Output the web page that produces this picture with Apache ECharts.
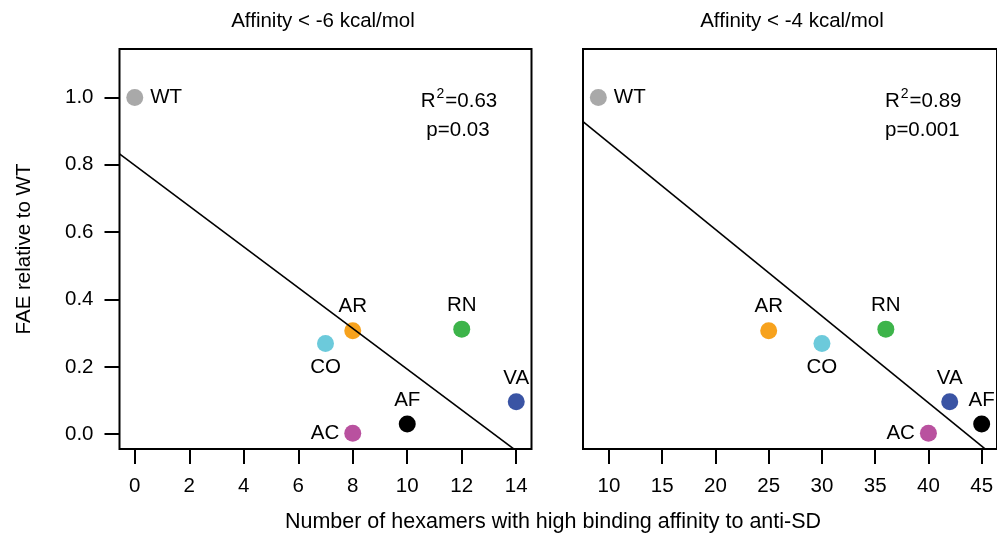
<!DOCTYPE html>
<html>
<head>
<meta charset="utf-8">
<script src="https://cdn.jsdelivr.net/npm/echarts@6/dist/echarts.min.js"></script>
<style>
html,body{margin:0;padding:0;background:#fff;}
#chart{width:997px;height:533px;}
</style>
</head>
<body>
<div id="chart"></div>
<script>
// ---- data ----
const strains = ['WT', 'AR', 'CO', 'RN', 'VA', 'AF', 'AC'];
const faeRelative = [1.0, 0.307, 0.269, 0.312, 0.096, 0.030, 0.003];
const hexamersAff6 = [0, 8, 7, 12, 14, 10, 8];    // affinity < -6 kcal/mol
const hexamersAff4 = [9, 25, 30, 36, 42, 45, 40]; // affinity < -4 kcal/mol
const xTicksLeft = [0, 2, 4, 6, 8, 10, 12, 14];
const xTicksRight = [10, 15, 20, 25, 30, 35, 40, 45];
const yTicks = [0.0, 0.2, 0.4, 0.6, 0.8, 1.0];
const statsLeft = { r2: '0.63', p: '0.03' };
const statsRight = { r2: '0.89', p: '0.001' };
const panelTitles = ['Affinity < -6 kcal/mol', 'Affinity < -4 kcal/mol'];

// ---- styles ----
const colors = {
  WT: '#a9a9a9', AR: '#f7a21d', CO: '#6ccadb', RN: '#3db44a',
  VA: '#3a54a4', AF: '#000000', AC: '#b9519f'
};
const labelPosLeft = { WT: 'right', AR: 'top', CO: 'bottom', RN: 'top', VA: 'top', AF: 'top', AC: 'left' };
const labelPosRight = { WT: 'right', AR: 'top', CO: 'bottom', RN: 'top', VA: 'top', AF: 'top', AC: 'left' };
const FONT = 'Liberation Sans, Arial, Helvetica, sans-serif';
const FS = 20.5;

// R-style axis range (4% padding)
function rRange(lo, hi) { const d = (hi - lo) * 0.04; return [lo - d, hi + d]; }
const xRangeL = rRange(Math.min(...hexamersAff6), Math.max(...hexamersAff6));
const xRangeR = rRange(Math.min(...hexamersAff4), Math.max(...hexamersAff4));
const yRange = rRange(0, 1.1);

function fit(xs, ys) {
  const n = xs.length;
  const mx = xs.reduce((a, b) => a + b, 0) / n;
  const my = ys.reduce((a, b) => a + b, 0) / n;
  let sxy = 0, sxx = 0;
  for (let i = 0; i < n; i++) { sxy += (xs[i] - mx) * (ys[i] - my); sxx += (xs[i] - mx) ** 2; }
  const b = sxy / sxx; const a = my - b * mx;
  return { a, b };
}

function pointData(xs, posMap) {
  return strains.map((s, i) => ({
    name: s,
    value: [xs[i], faeRelative[i]],
    itemStyle: { color: colors[s], opacity: 1 },
    label: { position: posMap[s], distance: posMap[s] === 'right' ? 7 : 5 }
  }));
}
function lineData(xs, range) {
  const f = fit(xs, faeRelative);
  return [[range[0], f.a + f.b * range[0]], [range[1], f.a + f.b * range[1]]];
}

const tickStyle = { show: true, inside: false, length: 15, lineStyle: { color: '#000', width: 2 } };
const noLine = { show: false, onZero: false };

const chart = echarts.init(document.getElementById('chart'), null, { renderer: 'canvas' });
const labelStyle = { show: true, formatter: '{b}', color: '#000', fontSize: FS, fontFamily: FONT, distance: 5, opacity: 1 };
const option = {
  backgroundColor: '#fff',
  animation: false,
  textStyle: { fontFamily: FONT },
  grid: [
    { left: 119.5, top: 49, width: 412, height: 400, show: true, borderColor: '#000', borderWidth: 2, backgroundColor: 'transparent' },
    { left: 583, top: 49, width: 419, height: 400, show: true, borderColor: '#000', borderWidth: 2, backgroundColor: 'transparent' }
  ],
  xAxis: [
    {
      gridIndex: 0, type: 'value', position: 'bottom', min: xRangeL[0], max: xRangeL[1],
      axisLine: noLine, splitLine: { show: false },
      axisTick: Object.assign({ customValues: xTicksLeft }, tickStyle),
      axisLabel: { customValues: xTicksLeft, color: '#000', fontSize: FS, fontFamily: FONT, margin: 27 }
    },
    {
      gridIndex: 1, type: 'value', position: 'bottom', min: xRangeR[0], max: xRangeR[1],
      axisLine: noLine, splitLine: { show: false },
      axisTick: Object.assign({ customValues: xTicksRight }, tickStyle),
      axisLabel: { customValues: xTicksRight, color: '#000', fontSize: FS, fontFamily: FONT, margin: 27 }
    }
  ],
  yAxis: [
    {
      gridIndex: 0, type: 'value', position: 'left', min: yRange[0], max: yRange[1],
      axisLine: noLine, splitLine: { show: false },
      axisTick: Object.assign({ customValues: yTicks }, tickStyle),
      axisLabel: { customValues: yTicks, color: '#000', fontSize: FS, fontFamily: FONT, margin: 26,
        formatter: v => v.toFixed(1) },
      name: 'FAE relative to WT', nameLocation: 'middle', nameGap: 85, nameRotate: 90,
      nameTextStyle: { color: '#000', fontSize: FS, fontFamily: FONT }
    },
    {
      gridIndex: 1, type: 'value', position: 'left', min: yRange[0], max: yRange[1],
      axisLine: noLine, splitLine: { show: false },
      axisTick: { show: false }, axisLabel: { show: false }
    }
  ],
  series: [
    {
      type: 'scatter', xAxisIndex: 0, yAxisIndex: 0, symbolSize: 17, z: 2,
      data: pointData(hexamersAff6, labelPosLeft), label: labelStyle,
      emphasis: { disabled: true }
    },
    {
      type: 'scatter', xAxisIndex: 1, yAxisIndex: 1, symbolSize: 17, z: 2,
      data: pointData(hexamersAff4, labelPosRight), label: labelStyle,
      emphasis: { disabled: true }
    },
    {
      type: 'line', xAxisIndex: 0, yAxisIndex: 0, showSymbol: false, clip: true, z: 5,
      lineStyle: { color: '#000', width: 1.6 }, data: lineData(hexamersAff6, xRangeL)
    },
    {
      type: 'line', xAxisIndex: 1, yAxisIndex: 1, showSymbol: false, clip: true, z: 5,
      lineStyle: { color: '#000', width: 1.6 }, data: lineData(hexamersAff4, xRangeR)
    }
  ],
  graphic: [
    { type: 'text', x: 323, y: 21, style: { text: panelTitles[0], fill: '#000', font: FS + 'px ' + FONT, textAlign: 'center', textVerticalAlign: 'middle' } },
    { type: 'text', x: 792, y: 21, style: { text: panelTitles[1], fill: '#000', font: FS + 'px ' + FONT, textAlign: 'center', textVerticalAlign: 'middle' } },
    { type: 'text', x: 553, y: 522, style: { text: 'Number of hexamers with high binding affinity to anti-SD', fill: '#000', font: '21.5px ' + FONT, textAlign: 'center', textVerticalAlign: 'middle' } },
    { type: 'text', x: 459, y: 101, style: {
        text: '{n|R}{s|2}{n|=' + statsLeft.r2 + '}', textAlign: 'center', textVerticalAlign: 'middle',
        rich: { n: { fontSize: FS, fontFamily: FONT, color: '#000' }, s: { fontSize: 14, fontFamily: FONT, color: '#000', padding: [0, 1, 13, 1] } } } },
    { type: 'text', x: 458, y: 130, style: { text: 'p=' + statsLeft.p, fill: '#000', font: FS + 'px ' + FONT, textAlign: 'center', textVerticalAlign: 'middle' } },
    { type: 'text', x: 885, y: 101, style: {
        text: '{n|R}{s|2}{n|=' + statsRight.r2 + '}', textAlign: 'left', textVerticalAlign: 'middle',
        rich: { n: { fontSize: FS, fontFamily: FONT, color: '#000' }, s: { fontSize: 14, fontFamily: FONT, color: '#000', padding: [0, 1, 13, 1] } } } },
    { type: 'text', x: 885, y: 130, style: { text: 'p=' + statsRight.p, fill: '#000', font: FS + 'px ' + FONT, textAlign: 'left', textVerticalAlign: 'middle' } }
  ]
};
chart.setOption(option);
</script>
</body>
</html>
